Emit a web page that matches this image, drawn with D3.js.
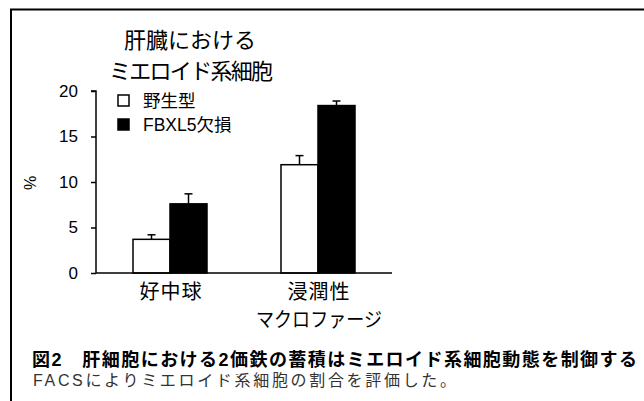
<!doctype html>
<html>
<head>
<meta charset="utf-8">
<style>
  body { margin: 0; background: #fff; }
  svg { display: block; }
  text { font-family: "Liberation Sans", "Noto Sans CJK JP", sans-serif; fill: #000; }
</style>
</head>
<body>
<div id="vis"></div>
<script src="https://d3js.org/d3.v7.min.js"></script>
<script>
var categories = [['好中球'], ['浸潤性', 'マクロファージ']];
var groups = ['野生型', 'FBXL5欠損'];
var wildType = [3.7, 11.9];
var wildTypeErr = [0.5, 1.0];
var knockout = [7.6, 18.4];
var knockoutErr = [1.1, 0.5];
var yTicks = [0, 5, 10, 15, 20];

var width = 644, height = 401;
var svg = d3.select('#vis').append('svg')
  .attr('width', width).attr('height', height);

// frame (right and bottom edges fall outside the crop)
svg.append('path')
  .attr('d', 'M11,' + height + 'V9.5H' + width)
  .attr('fill', 'none').attr('stroke', '#000').attr('stroke-width', 2);

var x0 = d3.scaleBand().domain([0, 1]).range([96, 392]);
var y = d3.scaleLinear().domain([0, 20]).range([273, 91]);

// title
svg.append('text').attr('x', 190).attr('y', 48).attr('text-anchor', 'middle')
  .style('font-size', '22px').text('肝臓における');
svg.append('text').attr('x', 191).attr('y', 79).attr('text-anchor', 'middle')
  .style('font-size', '22px').attr('textLength', 164).attr('lengthAdjust', 'spacing')
  .text('ミエロイド系細胞');

// y axis
var yAxis = d3.axisLeft(y).tickValues(yTicks).tickSize(5).tickPadding(13);
var gy = svg.append('g').attr('transform', 'translate(96,0)').call(yAxis);
gy.select('.domain').attr('d', 'M-5,' + y(20) + 'H0V' + y(0)).attr('stroke-width', 1.5);
gy.selectAll('.tick line').attr('stroke-width', 1.5);
gy.selectAll('.tick text').style('font-size', '17px');

svg.append('text').attr('transform', 'translate(36,183) rotate(-90)')
  .attr('text-anchor', 'middle').style('font-size', '16px').text('%');

// bars
var barW = 37;
function centerOf(i) { return x0(i) + x0.bandwidth() / 2; }

var series = [
  { vals: wildType, err: wildTypeErr, fill: '#fff', off: -barW },
  { vals: knockout, err: knockoutErr, fill: '#000', off: 0 }
];

series.forEach(function(s) {
  var g = svg.append('g');
  g.selectAll('line.err').data(s.vals).enter().append('line')
    .attr('x1', function(d, i) { return centerOf(i) + s.off + barW / 2; })
    .attr('x2', function(d, i) { return centerOf(i) + s.off + barW / 2; })
    .attr('y1', function(d) { return y(d); })
    .attr('y2', function(d, i) { return y(d + s.err[i]); })
    .attr('stroke', '#000').attr('stroke-width', 1.5);
  g.selectAll('line.cap').data(s.vals).enter().append('line')
    .attr('x1', function(d, i) { return centerOf(i) + s.off + barW / 2 - 4; })
    .attr('x2', function(d, i) { return centerOf(i) + s.off + barW / 2 + 4; })
    .attr('y1', function(d, i) { return y(d + s.err[i]); })
    .attr('y2', function(d, i) { return y(d + s.err[i]); })
    .attr('stroke', '#000').attr('stroke-width', 1.5);
  g.selectAll('rect').data(s.vals).enter().append('rect')
    .attr('x', function(d, i) { return centerOf(i) + s.off; })
    .attr('y', function(d) { return y(d); })
    .attr('width', barW)
    .attr('height', function(d) { return y(0) - y(d); })
    .attr('fill', s.fill).attr('stroke', '#000').attr('stroke-width', 1.5);
});

// x axis baseline
svg.append('line').attr('x1', 96).attr('x2', 392).attr('y1', y(0)).attr('y2', y(0))
  .attr('stroke', '#000').attr('stroke-width', 1.5);

// category labels
categories.forEach(function(lines, i) {
  lines.forEach(function(t, j) {
    var tx = svg.append('text').attr('x', centerOf(i) + 1).attr('y', 299 + j * 28)
      .attr('text-anchor', 'middle').style('font-size', '20px').text(t);
    if (j === 0) tx.style('letter-spacing', '1px');
    else tx.attr('textLength', 126).attr('lengthAdjust', 'spacingAndGlyphs');
  });
});

// legend
groups.forEach(function(name, i) {
  svg.append('rect').attr('x', 118).attr('y', 95 + i * 24).attr('width', 11).attr('height', 11)
    .attr('fill', i === 0 ? '#fff' : '#000').attr('stroke', '#000').attr('stroke-width', 1.5);
  svg.append('text').attr('x', 143).attr('y', 107 + i * 24)
    .style('font-size', '17.5px').text(name);
});

// caption
svg.append('text').attr('x', 32).attr('y', 366)
  .style('font-size', '18px').style('font-weight', 'bold')
  .attr('textLength', 605).attr('lengthAdjust', 'spacing')
  .text('図2\u3000肝細胞における2価鉄の蓄積はミエロイド系細胞動態を制御する');
svg.append('text').attr('x', 33).attr('y', 386)
  .style('font-size', '16px').style('fill', '#333')
  .attr('textLength', 423).attr('lengthAdjust', 'spacing')
  .text('FACSによりミエロイド系細胞の割合を評価した。');
</script>
</body>
</html>
